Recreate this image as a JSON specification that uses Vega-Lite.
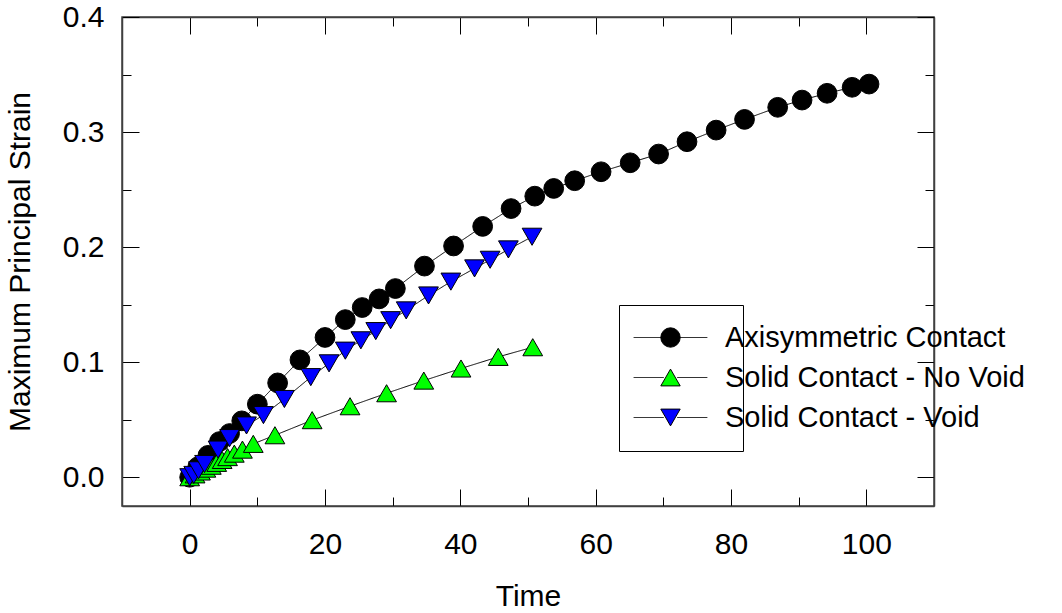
{
  "$schema": "https://vega.github.io/schema/vega-lite/v6.json",
  "width": 812,
  "height": 489,
  "autosize": {"type": "none"},
  "padding": {"left": 122, "top": 17, "right": 128, "bottom": 107},
  "background": "white",
  "config": {
    "font": "Liberation Sans",
    "view": {"stroke": "#404040", "strokeWidth": 1.5},
    "axis": {
      "grid": false,
      "domainColor": "#404040",
      "domainWidth": 1.5,
      "tickColor": "black",
      "tickWidth": 1,
      "labelFontSize": 30,
      "titleFontSize": 30,
      "labelColor": "black",
      "titleColor": "black",
      "titleFontWeight": "normal",
      "labelFlush": false,
      "labelOverlap": false
    }
  },
  "data": {
    "values": [
      {"series": "Axisymmetric Contact", "time": 0, "strain": 0},
      {"series": "Axisymmetric Contact", "time": 1.2, "strain": 0.009},
      {"series": "Axisymmetric Contact", "time": 2.7, "strain": 0.019},
      {"series": "Axisymmetric Contact", "time": 4.4, "strain": 0.031},
      {"series": "Axisymmetric Contact", "time": 5.9, "strain": 0.038},
      {"series": "Axisymmetric Contact", "time": 7.7, "strain": 0.049},
      {"series": "Axisymmetric Contact", "time": 10.0, "strain": 0.0635},
      {"series": "Axisymmetric Contact", "time": 13.0, "strain": 0.082},
      {"series": "Axisymmetric Contact", "time": 16.3, "strain": 0.102},
      {"series": "Axisymmetric Contact", "time": 20.0, "strain": 0.1215},
      {"series": "Axisymmetric Contact", "time": 23.0, "strain": 0.137},
      {"series": "Axisymmetric Contact", "time": 25.5, "strain": 0.1475},
      {"series": "Axisymmetric Contact", "time": 28.0, "strain": 0.155},
      {"series": "Axisymmetric Contact", "time": 30.4, "strain": 0.164},
      {"series": "Axisymmetric Contact", "time": 34.7, "strain": 0.1835},
      {"series": "Axisymmetric Contact", "time": 39.0, "strain": 0.201},
      {"series": "Axisymmetric Contact", "time": 43.3, "strain": 0.218},
      {"series": "Axisymmetric Contact", "time": 47.5, "strain": 0.2335},
      {"series": "Axisymmetric Contact", "time": 51.0, "strain": 0.2443},
      {"series": "Axisymmetric Contact", "time": 53.8, "strain": 0.251},
      {"series": "Axisymmetric Contact", "time": 56.9, "strain": 0.2577},
      {"series": "Axisymmetric Contact", "time": 60.8, "strain": 0.2655},
      {"series": "Axisymmetric Contact", "time": 65.1, "strain": 0.2733},
      {"series": "Axisymmetric Contact", "time": 69.3, "strain": 0.2809},
      {"series": "Axisymmetric Contact", "time": 73.5, "strain": 0.2916},
      {"series": "Axisymmetric Contact", "time": 77.8, "strain": 0.3017},
      {"series": "Axisymmetric Contact", "time": 82.0, "strain": 0.311},
      {"series": "Axisymmetric Contact", "time": 86.9, "strain": 0.3215},
      {"series": "Axisymmetric Contact", "time": 90.5, "strain": 0.3278},
      {"series": "Axisymmetric Contact", "time": 94.2, "strain": 0.3337},
      {"series": "Axisymmetric Contact", "time": 97.9, "strain": 0.3389},
      {"series": "Axisymmetric Contact", "time": 100.4, "strain": 0.3417},
      {"series": "Solid Contact - No Void", "time": 0, "strain": 0},
      {"series": "Solid Contact - No Void", "time": 0.8, "strain": 0.0025},
      {"series": "Solid Contact - No Void", "time": 1.6, "strain": 0.005},
      {"series": "Solid Contact - No Void", "time": 2.4, "strain": 0.0075},
      {"series": "Solid Contact - No Void", "time": 3.2, "strain": 0.01},
      {"series": "Solid Contact - No Void", "time": 4.0, "strain": 0.0125},
      {"series": "Solid Contact - No Void", "time": 4.8, "strain": 0.015},
      {"series": "Solid Contact - No Void", "time": 5.6, "strain": 0.0175},
      {"series": "Solid Contact - No Void", "time": 6.6, "strain": 0.0205},
      {"series": "Solid Contact - No Void", "time": 7.8, "strain": 0.024},
      {"series": "Solid Contact - No Void", "time": 9.4, "strain": 0.029},
      {"series": "Solid Contact - No Void", "time": 12.6, "strain": 0.0365},
      {"series": "Solid Contact - No Void", "time": 18.1, "strain": 0.0496},
      {"series": "Solid Contact - No Void", "time": 23.7, "strain": 0.0617},
      {"series": "Solid Contact - No Void", "time": 29.1, "strain": 0.073},
      {"series": "Solid Contact - No Void", "time": 34.6, "strain": 0.084},
      {"series": "Solid Contact - No Void", "time": 40.1, "strain": 0.0945},
      {"series": "Solid Contact - No Void", "time": 45.6, "strain": 0.1046},
      {"series": "Solid Contact - No Void", "time": 50.7, "strain": 0.113},
      {"series": "Solid Contact - Void", "time": 0, "strain": 0},
      {"series": "Solid Contact - Void", "time": 0.6, "strain": 0.002},
      {"series": "Solid Contact - Void", "time": 1.3, "strain": 0.006},
      {"series": "Solid Contact - Void", "time": 2.2, "strain": 0.0115},
      {"series": "Solid Contact - Void", "time": 4.2, "strain": 0.024},
      {"series": "Solid Contact - Void", "time": 5.9, "strain": 0.034},
      {"series": "Solid Contact - Void", "time": 8.4, "strain": 0.045},
      {"series": "Solid Contact - Void", "time": 10.9, "strain": 0.054},
      {"series": "Solid Contact - Void", "time": 14.0, "strain": 0.068},
      {"series": "Solid Contact - Void", "time": 17.9, "strain": 0.087},
      {"series": "Solid Contact - Void", "time": 20.6, "strain": 0.099},
      {"series": "Solid Contact - Void", "time": 23.0, "strain": 0.11},
      {"series": "Solid Contact - Void", "time": 25.3, "strain": 0.119},
      {"series": "Solid Contact - Void", "time": 27.5, "strain": 0.127},
      {"series": "Solid Contact - Void", "time": 29.7, "strain": 0.1365},
      {"series": "Solid Contact - Void", "time": 32.0, "strain": 0.145},
      {"series": "Solid Contact - Void", "time": 35.3, "strain": 0.158},
      {"series": "Solid Contact - Void", "time": 38.6, "strain": 0.17},
      {"series": "Solid Contact - Void", "time": 42.1, "strain": 0.1815},
      {"series": "Solid Contact - Void", "time": 44.4, "strain": 0.189},
      {"series": "Solid Contact - Void", "time": 47.1, "strain": 0.198},
      {"series": "Solid Contact - Void", "time": 50.6, "strain": 0.209}
    ]
  },
  "layer": [
    {
      "mark": {"type": "line", "color": "black", "strokeWidth": 1},
      "encoding": {
        "x": {
          "field": "time", "type": "quantitative",
          "scale": {"domain": [-10, 110], "nice": false, "zero": false},
          "axis": {
            "orient": "top", "title": null, "labels": false,
            "values": [0, 10, 20, 30, 40, 50, 60, 70, 80, 90, 100],
            "tickSize": {"condition": {"test": "datum.value % 20 === 0", "value": -17}, "value": -9}
          }
        },
        "y": {
          "field": "strain", "type": "quantitative",
          "scale": {"domain": [-0.025, 0.4], "nice": false, "zero": false},
          "axis": {
            "orient": "right", "title": null, "labels": false,
            "values": [0, 0.05, 0.1, 0.15, 0.2, 0.25, 0.3, 0.35, 0.4],
            "tickSize": {"condition": {"test": "abs(datum.value * 10 - round(datum.value * 10)) < 0.001", "value": -17}, "value": -9}
          }
        },
        "strokeDash": {
          "field": "series", "type": "nominal",
          "scale": {
            "domain": ["Solid Contact - Void", "Solid Contact - No Void", "Axisymmetric Contact"],
            "range": [[1, 0], [1, 0], [1, 0]]
          },
          "legend": {
            "title": null,
            "orient": "none",
            "legendX": 497,
            "legendY": 288,
            "fillColor": "white",
            "strokeColor": "black",
            "padding": 18,
            "symbolOffset": 19,
            "symbolSize": 376,
            "symbolType": "M-3.8,0H-0.7M0.7,0H3.8",
            "symbolStrokeWidth": 1,
            "labelOffset": 40,
            "labelFontSize": 29,
            "labelColor": "black",
            "labelOpacity": 0,
            "labelExpr": "'\u00a0\u00a0\u00a0\u00a0\u00a0\u00a0\u00a0\u00a0\u00a0\u00a0\u00a0\u00a0\u00a0\u00a0\u00a0\u00a0\u00a0\u00a0\u00a0\u00a0\u00a0\u00a0\u00a0\u00a0\u00a0\u00a0\u00a0\u00a0\u00a0\u00a0\u00a0\u00a0\u00a0\u00a0\u00a0\u00a0\u00a0'",
            "labelLimit": 500,
            "rowPadding": 10
          }
        }
      }
    },
    {
      "mark": {"type": "point", "filled": true, "stroke": "black", "strokeWidth": 1, "opacity": 1, "size": 390},
      "encoding": {
        "x": {
          "field": "time", "type": "quantitative",
          "axis": {
            "orient": "bottom", "title": "Time",
            "values": [0, 10, 20, 30, 40, 50, 60, 70, 80, 90, 100],
            "labelExpr": "datum.value % 20 === 0 ? datum.label : ''",
            "tickSize": {"condition": {"test": "datum.value % 20 === 0", "value": -17}, "value": -9},
            "labelPadding": 40,
            "titlePadding": 14
          }
        },
        "y": {
          "field": "strain", "type": "quantitative",
          "axis": {
            "orient": "left", "title": "Maximum Principal Strain",
            "values": [0, 0.05, 0.1, 0.15, 0.2, 0.25, 0.3, 0.35, 0.4],
            "format": ".1f",
            "labelExpr": "abs(datum.value * 10 - round(datum.value * 10)) < 0.001 ? format(datum.value, '.1f') : ''",
            "tickSize": {"condition": {"test": "abs(datum.value * 10 - round(datum.value * 10)) < 0.001", "value": -17}, "value": -9},
            "labelPadding": 35,
            "titlePadding": 27
          }
        },
        "fill": {
          "field": "series", "type": "nominal",
          "scale": {
            "domain": ["Axisymmetric Contact", "Solid Contact - No Void", "Solid Contact - Void"],
            "range": ["#000000", "#00ff00", "#0000ff"]
          },
          "legend": {
            "title": null,
            "orient": "none",
            "legendX": 497,
            "legendY": 288,
            "strokeColor": "transparent",
            "padding": 18,
            "symbolOffset": 19,
            "symbolSize": 376,
            "symbolStrokeWidth": 1,
            "labelOffset": 40,
            "labelFontSize": 29,
            "labelColor": "black",
            "labelLimit": 500,
            "rowPadding": 10
          }
        },
        "shape": {
          "field": "series", "type": "nominal",
          "scale": {
            "domain": ["Axisymmetric Contact", "Solid Contact - No Void", "Solid Contact - Void"],
            "range": ["circle", "triangle-up", "triangle-down"]
          },
          "legend": {
            "title": null,
            "orient": "none",
            "legendX": 497,
            "legendY": 288,
            "strokeColor": "transparent",
            "padding": 18,
            "symbolOffset": 19,
            "symbolSize": 376,
            "symbolStrokeWidth": 1,
            "labelOffset": 40,
            "labelFontSize": 29,
            "labelColor": "black",
            "labelLimit": 500,
            "rowPadding": 10
          }
        }
      }
    }
  ],
  "resolve": {"axis": {"x": "independent", "y": "independent"}}
}
